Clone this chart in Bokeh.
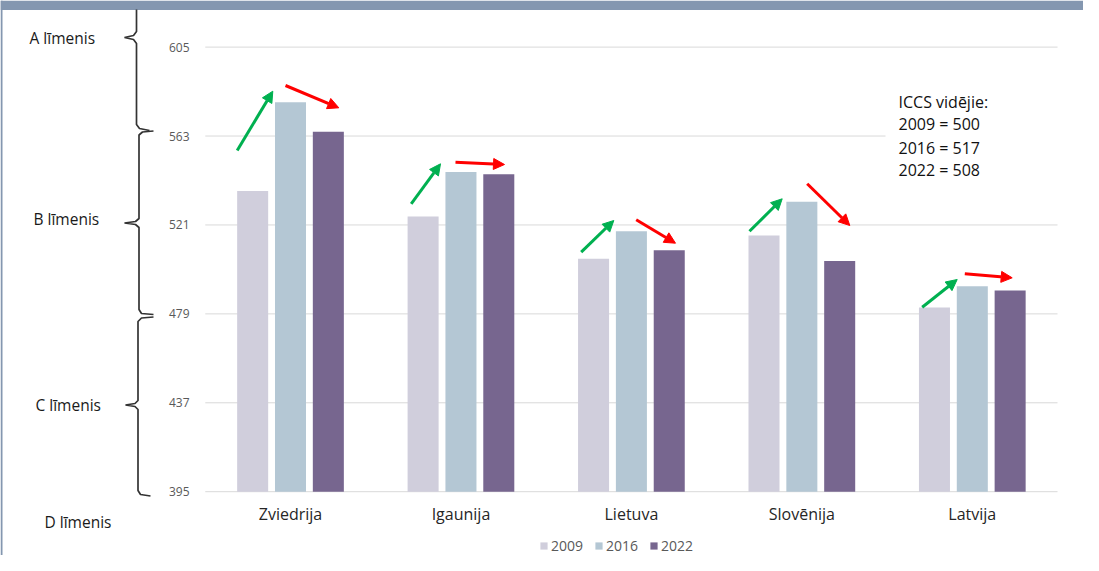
from bokeh.plotting import figure
from bokeh.models import Range1d, Legend, LegendItem, Arrow, NormalHead, ColumnDataSource
from bokeh.core.properties import value
from bokeh.embed import file_html
from bokeh.resources import INLINE

# ---------------- data ----------------
categories = ["Zviedrija", "Igaunija", "Lietuva", "Slovēnija", "Latvija"]
years = ["2009", "2016", "2022"]
scores_2009 = [537, 525, 505, 516, 482]
scores_2016 = [579, 546, 518, 532, 492]
scores_2022 = [565, 545, 509, 504, 490]
y_ticks = [395, 437, 479, 521, 563, 605]
level_labels = ["A līmenis", "B līmenis", "C līmenis", "D līmenis"]
iccs_title = "ICCS vidējie:"
iccs_years = ["2009", "2016", "2022"]
iccs_means = [500, 517, 508]

# ---------------- layout helpers (canvas pixel -> data) ----------------
W, H = 1083, 555
PX_PER_CAT = 170.45
X0_PAGE = 290.0
PX_PER_PT = 2.1171
Y395_PAGE = 491.2


def dx(px):
    return (px - X0_PAGE) / PX_PER_CAT


def dy(py):
    return 395 + (Y395_PAGE - py) / PX_PER_PT


FONT = value("Open Sans")
colors = ["#D0CEDC", "#B4C7D4", "#77668F"]
offsets = [-0.222, 0.0, 0.222]
bar_w = 0.182

p = figure(width=W, height=H, output_backend="svg", toolbar_location=None,
           x_range=Range1d(dx(0), dx(W)), y_range=Range1d(dy(H), dy(0)),
           x_axis_location=None, y_axis_location=None, min_border=0,
           background_fill_color="white", border_fill_color="white")
p.outline_line_color = None
p.grid.visible = False

# frame band (top) and left edge
p.quad(left=[dx(0)], right=[dx(W)], top=[dy(0)], bottom=[dy(9.5)],
       fill_color="#8497B0", line_color=None)
p.quad(left=[dx(0)], right=[dx(2)], top=[dy(0)], bottom=[dy(H)],
       fill_color="#8497B0", line_color=None)

# grid lines
p.segment(x0=[-0.5] * len(y_ticks), x1=[4.5] * len(y_ticks), y0=y_ticks, y1=y_ticks,
          line_color="#D9D9D9", line_width=1)

# white text box (covers grid line)
p.quad(left=[dx(885)], right=[dx(1075)], top=[dy(88)], bottom=[dy(182)],
       fill_color="white", line_color=None)

# tick labels
p.text(x=[dx(189)] * len(y_ticks), y=y_ticks, text=[str(t) for t in y_ticks],
       text_font=FONT, text_font_size="12px", text_color="#595959",
       text_align="right", text_baseline="middle")

# bars
series = [scores_2009, scores_2016, scores_2022]
items = []
for yr, vals, col, off in zip(years, series, colors, offsets):
    src = ColumnDataSource(dict(x=[i + off for i in range(len(categories))], top=vals))
    r = p.vbar(x="x", top="top", bottom=395, width=bar_w, source=src,
               fill_color=col, line_color=None)
    items.append(LegendItem(label=yr, renderers=[r]))

# category labels
p.text(x=list(range(len(categories))), y=[dy(513.5)] * len(categories), text=categories,
       text_font=FONT, text_font_size="16px", text_color="#262626",
       text_align="center", text_baseline="middle")

# level labels
lvl_x = [29, 33, 35, 44]
lvl_y = [37.5, 218.5, 404, 521]
p.text(x=[dx(v) for v in lvl_x], y=[dy(v) for v in lvl_y], text=level_labels,
       text_font=FONT, text_font_size="15.5px", text_color="#1A1A1A",
       text_align="left", text_baseline="middle")

# brackets
brackets = [
    [(136, 9), (136, 31), (133, 35), (124, 37), (133, 39), (136, 43), (136, 124), (139, 128), (149, 130)],
    [(153, 130.5), (142, 131.5), (138.5, 134.5), (138.5, 218), (135, 221), (124, 222.5), (135, 224),
     (138.5, 227), (138.5, 309), (141, 313), (153, 314)],
    [(153, 316.5), (141, 317.5), (137.5, 321), (137.5, 400), (134.5, 403), (125, 404.5), (134.5, 406),
     (137.5, 409), (137.5, 490), (140, 494), (150, 495.5)],
]
p.multi_line(xs=[[dx(a) for a, b in br] for br in brackets],
             ys=[[dy(b) for a, b in br] for br in brackets],
             line_color="#333333", line_width=1.7)

# ICCS averages text
iccs_text = [iccs_title] + [f"{y} = {m}" for y, m in zip(iccs_years, iccs_means)]
p.text(x=[dx(898)] * 4, y=[dy(v) for v in [101.3, 123.0, 147.0, 169.5]], text=iccs_text,
       text_font=FONT, text_font_size="16px", text_color="#111111",
       text_align="left", text_baseline="middle")

# change arrows
green = [((236.7, 150), (272.3, 90.7)), ((410.7, 203.3), (440, 163.3)), ((580.7, 251.7), (613.3, 220)),
         ((749, 230.7), (781.7, 198.3)), ((921.7, 306.7), (956.7, 279))]
red = [((285, 85), (338.3, 107.3)), ((455, 161.7), (504, 164)), ((635.7, 219.3), (675, 242.7)),
       ((806.7, 183.3), (849.3, 225)), ((964.3, 273.3), (1011.7, 277.3))]
for arr, col in [(green, "#00B050"), (red, "#FF0000")]:
    src = ColumnDataSource(dict(x0=[dx(a[0][0]) for a in arr], y0=[dy(a[0][1]) for a in arr],
                                x1=[dx(a[1][0]) for a in arr], y1=[dy(a[1][1]) for a in arr]))
    p.add_layout(Arrow(x_start="x0", y_start="y0", x_end="x1", y_end="y1", source=src,
                       line_color=col, line_width=3,
                       end=NormalHead(size=11, fill_color=col, line_color=col, line_width=1)))

legend = Legend(items=items, orientation="horizontal", location=(539, 0),
                glyph_width=9, glyph_height=9, label_standoff=3, spacing=11,
                label_height=9, padding=0, margin=0,
                label_text_font="Open Sans", label_text_font_size="14px", label_text_color="#595959",
                border_line_color=None, background_fill_alpha=0)
p.add_layout(legend)

open("out.html", "w").write(file_html(p, INLINE))
